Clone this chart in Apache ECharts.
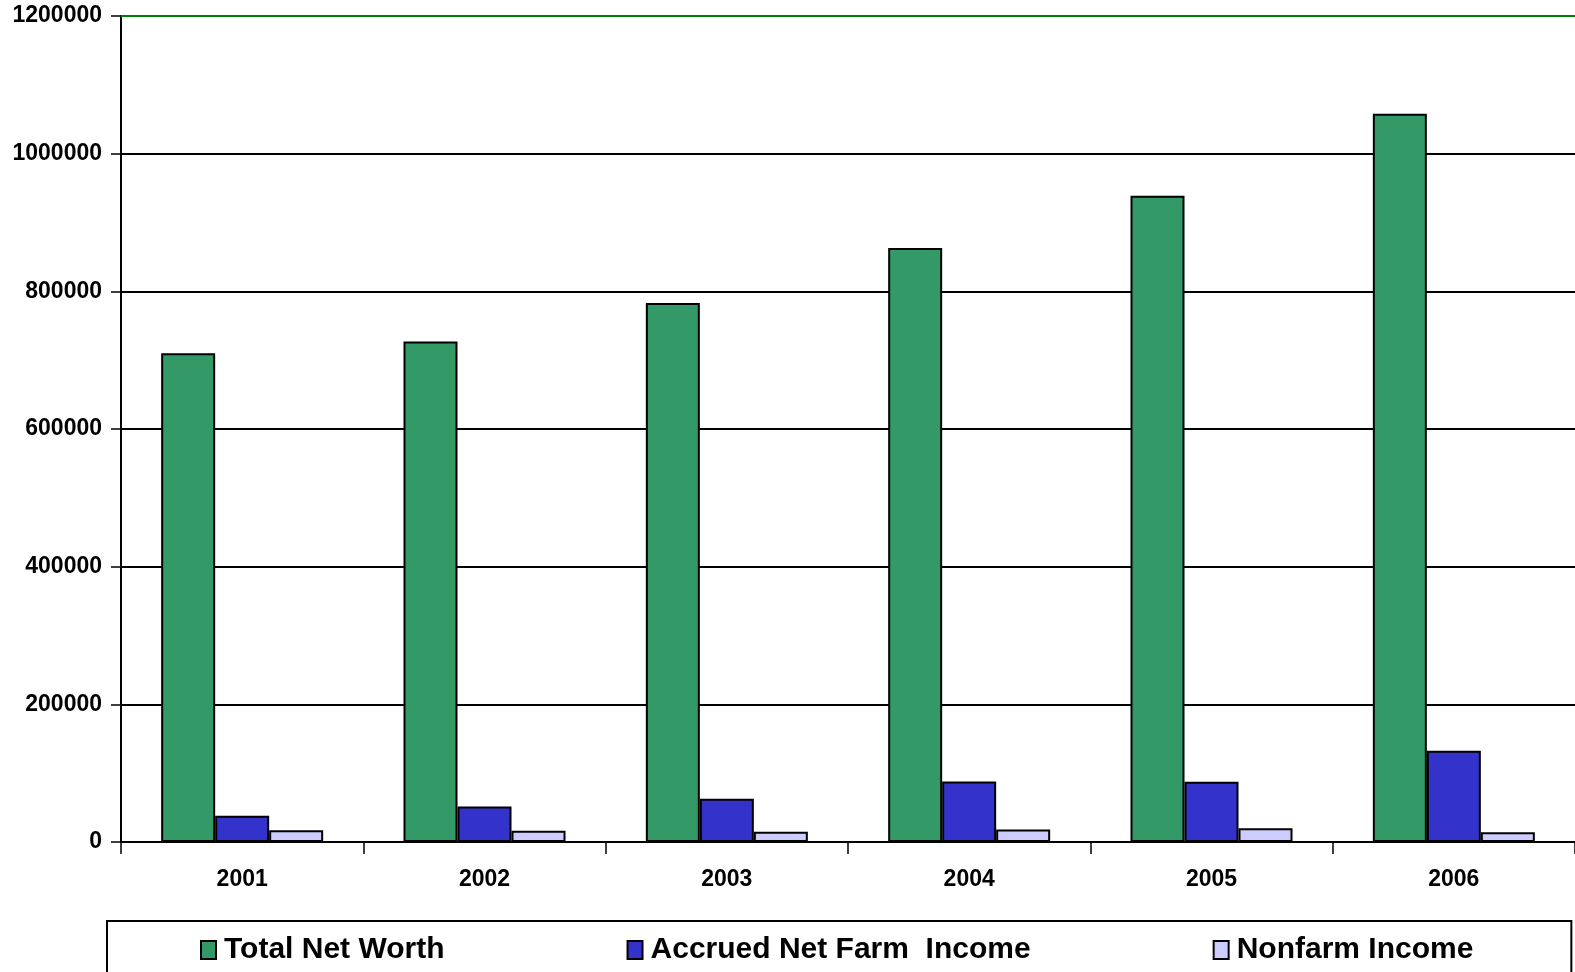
<!DOCTYPE html>
<html><head><meta charset="utf-8">
<script src="https://cdn.jsdelivr.net/npm/echarts@6/dist/echarts.min.js"></script>
<style>html,body{margin:0;padding:0;background:#fff}#c{width:1575px;height:972px}</style>
</head><body><div id="c"></div>
<script>
const years = ['2001','2002','2003','2004','2005','2006'];
const totalNetWorth = [710000, 727000, 783000, 863000, 939000, 1058000];
const accruedNetFarmIncome = [38000, 51500, 63000, 88000, 87500, 132500];
const nonfarmIncome = [17000, 16500, 15000, 18000, 20000, 14000];
const seriesNames = ['Total Net Worth', 'Accrued Net Farm  Income', 'Nonfarm Income'];
const yTicks = { min: 0, max: 1200000, interval: 200000 };

const FONT = "'Liberation Sans', Arial, sans-serif";
const chart = echarts.init(document.getElementById('c'));
const barStyle = (c) => ({ color: c, borderColor: '#000', borderWidth: 2 });
chart.setOption({
  animation: false,
  backgroundColor: '#fff',
  grid: { left: 121, right: -5, top: 16, bottom: 130, containLabel: false },
  legend: {
    left: 107, top: 921,
    padding: [14, 98, 40, 93],
    borderColor: '#000', borderWidth: 2,
    itemGap: 182, itemWidth: 15, itemHeight: 18,
    icon: 'rect',
    textStyle: { fontFamily: FONT, fontWeight: 'bold', fontSize: 30, color: '#000', padding: [0, 0, 0, 3] },
    data: seriesNames
  },
  xAxis: [{
    type: 'category', data: years, position: 'bottom', offset: 2,
    axisLine: { lineStyle: { color: '#000', width: 2 } },
    axisTick: { show: true, length: 12, lineStyle: { color: '#000', width: 1.5 } },
    axisLabel: { fontFamily: FONT, fontWeight: 'bold', fontSize: 23, color: '#000', margin: 24 },
    splitLine: { show: false }
  }, {
    type: 'category', data: years, position: 'top',
    axisLine: { lineStyle: { color: '#008000', width: 2 } },
    axisTick: { show: false }, axisLabel: { show: false }
  }],
  yAxis: {
    type: 'value', min: yTicks.min, max: yTicks.max, interval: yTicks.interval,
    axisLine: { show: true, lineStyle: { color: '#000', width: 2 } },
    axisTick: { show: true, length: 10, lineStyle: { color: '#000', width: 1.5 } },
    axisLabel: { fontFamily: FONT, fontWeight: 'bold', fontSize: 23, color: '#000', margin: 19, formatter: (v) => String(v) },
    splitLine: { show: true, lineStyle: { color: ['#008000','#000','#000','#000','#000','#000','#008000'], width: 2 } }
  },
  series: [
    { name: seriesNames[0], type: 'bar', data: totalNetWorth, barWidth: 54, barGap: '0%', itemStyle: barStyle('#339966') },
    { name: seriesNames[1], type: 'bar', data: accruedNetFarmIncome, barWidth: 54, barGap: '0%', itemStyle: barStyle('#3333CC') },
    { name: seriesNames[2], type: 'bar', data: nonfarmIncome, barWidth: 54, barGap: '0%', itemStyle: barStyle('#CCCCFF') }
  ]
});
</script></body></html>
